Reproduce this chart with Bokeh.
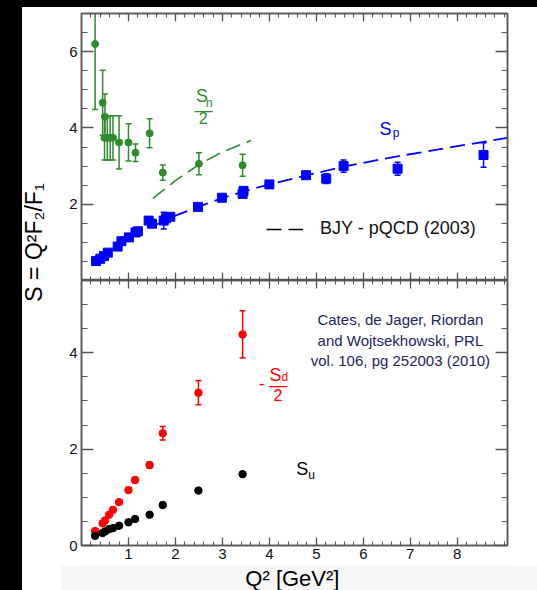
import numpy as np
from bokeh.plotting import figure
from bokeh.models import Range1d, LinearAxis, FixedTicker, Label, Legend, LegendItem, Spacer
from bokeh.layouts import row, column
from bokeh.embed import file_html
from bokeh.resources import INLINE

# ---------------- data ----------------
# top panel: neutron  S_n / 2  (green circles)
sn_q2 = [0.29, 0.45, 0.50, 0.49, 0.55, 0.61, 0.67, 0.80, 1.00, 1.15, 1.45, 1.73, 2.50, 3.43]
sn_val = [6.20, 4.66, 4.29, 3.74, 3.74, 3.74, 3.74, 3.62, 3.62, 3.35, 3.86, 2.83, 3.06, 3.02]
sn_err = [1.72, 0.85, 0.60, 0.58, 0.58, 0.58, 0.58, 0.70, 0.49, 0.23, 0.38, 0.20, 0.29, 0.29]

# top panel: proton S_p (blue squares)
sp_q2 = [0.31, 0.40, 0.48, 0.56, 0.77, 0.85, 1.01, 1.15, 1.20, 1.43, 1.50, 1.75, 1.80, 1.89,
         2.48, 2.99, 3.43, 3.45, 4.00, 4.78, 5.21, 5.58, 6.73, 8.56]
sp_val = [0.51, 0.57, 0.64, 0.73, 0.89, 1.03, 1.13, 1.26, 1.29, 1.57, 1.49, 1.57, 1.63, 1.67,
          1.93, 2.17, 2.27, 2.35, 2.52, 2.76, 2.67, 3.00, 2.93, 3.29]
sp_err = [0.02, 0.02, 0.02, 0.02, 0.02, 0.02, 0.02, 0.03, 0.03, 0.04, 0.04, 0.22, 0.05, 0.05,
          0.05, 0.05, 0.08, 0.08, 0.05, 0.06, 0.13, 0.16, 0.17, 0.32]

# BJY - pQCD (2003) curves
bjy_n_q2 = [1.52, 2.00, 2.50, 3.00, 3.61]
bjy_n_val = [2.15, 2.62, 3.04, 3.37, 3.67]
bjy_p_q2 = [1.53, 2.00, 2.50, 3.00, 3.50, 4.00, 4.80, 5.60, 6.70, 8.00, 9.07]
bjy_p_val = [1.43, 1.70, 1.94, 2.16, 2.35, 2.52, 2.76, 2.99, 3.25, 3.52, 3.74]

# bottom panel: flavor separated  -S_d/2 (red)  and  S_u (black)
fl_q2 = [0.29, 0.45, 0.50, 0.59, 0.67, 0.80, 1.00, 1.14, 1.45, 1.73, 2.49, 3.43]
sd_val = [0.30, 0.46, 0.52, 0.64, 0.74, 0.90, 1.15, 1.36, 1.67, 2.33, 3.17, 4.38]
sd_err = [0.02, 0.02, 0.02, 0.03, 0.03, 0.04, 0.05, 0.05, 0.06, 0.14, 0.25, 0.49]
su_val = [0.20, 0.26, 0.29, 0.34, 0.36, 0.41, 0.48, 0.55, 0.64, 0.84, 1.14, 1.48]

# ticks
x_major = [1, 2, 3, 4, 5, 6, 7, 8]
x_minor = [round(v, 1) for v in np.arange(0.2, 9.05, 0.2)]
top_y_major = [2, 4, 6]
top_y_minor = [round(v, 1) for v in np.arange(0.5, 7.01, 0.5)]
bot_y_major = [0, 2, 4]
bot_y_minor = [round(v, 1) for v in np.arange(0.5, 5.51, 0.5)]

# ---------------- style ----------------
XMAX = 9.07
FRAME = "#555555"
GREEN = "#2e8b2e"
BLUE = "#0000ff"
RED = "#ff0000"
NAVY = "#23235f"
FONT = "Liberation Sans"
MAIN_W = 477
B_LEFT, B_RIGHT = 21, 30


def add_axes(p, xlabels, yticks, yminor):
    specs = [("below", True, xlabels), ("above", True, False),
             ("left", False, True), ("right", False, False)]
    for place, is_x, show in specs:
        if is_x:
            ax = LinearAxis(ticker=FixedTicker(ticks=x_major, minor_ticks=x_minor))
            ax.major_tick_in, ax.minor_tick_in = 8, 4
        else:
            ax = LinearAxis(ticker=FixedTicker(ticks=yticks, minor_ticks=yminor))
            ax.major_tick_in, ax.minor_tick_in = 12, 6
        ax.major_tick_out = 0
        ax.minor_tick_out = 0
        ax.axis_line_color = FRAME
        ax.axis_line_width = 1.5
        ax.major_tick_line_color = FRAME
        ax.minor_tick_line_color = FRAME
        ax.major_tick_line_width = 1.3
        ax.minor_tick_line_width = 1.1
        if show:
            ax.major_label_text_font = FONT
            ax.major_label_text_font_size = "15px"
            ax.major_label_text_color = "#111111"
            ax.major_label_standoff = 3 if is_x else 4
        else:
            ax.major_label_text_font_size = "1px"
            ax.major_label_text_color = None
            ax.major_label_standoff = 0
        p.add_layout(ax, place)


def make_fig(height, ymax, border_top, border_bottom):
    p = figure(width=MAIN_W, height=height, x_range=Range1d(0, XMAX), y_range=Range1d(0, ymax),
               output_backend="svg", toolbar_location=None, title=None,
               x_axis_location=None, y_axis_location=None,
               min_border_left=B_LEFT, min_border_right=B_RIGHT,
               min_border_top=border_top, min_border_bottom=border_bottom)
    p.xgrid.visible = False
    p.ygrid.visible = False
    p.outline_line_color = FRAME
    p.outline_line_width = 1.5
    p.background_fill_color = "white"
    p.border_fill_color = "white"
    return p


def errbars(p, xs, ys, es, color):
    lo = [y - e for y, e in zip(ys, es)]
    hi = [y + e for y, e in zip(ys, es)]
    p.segment(x0=xs, y0=lo, x1=xs, y1=hi, line_color=color, line_width=1.5)
    p.scatter(x=list(xs) + list(xs), y=lo + hi, marker="dash", size=6,
              line_color=color, line_width=1.5)


def txt(p, x, y, s, color, size, align="center", baseline="alphabetic", font=FONT):
    p.add_layout(Label(x=x, y=y, text=s, text_color=color, text_font=font,
                       text_font_size=size, text_align=align, text_baseline=baseline))


# ---------------- top panel ----------------
p_top = make_fig(273, 7, 6, 0)
add_axes(p_top, False, top_y_major, top_y_minor)

p_top.line(bjy_n_q2, bjy_n_val, line_color=GREEN, line_width=1.6, line_dash="15 7")
p_top.line(bjy_p_q2, bjy_p_val, line_color=BLUE, line_width=1.8, line_dash="15 7")
errbars(p_top, sn_q2, sn_val, sn_err, GREEN)
p_top.scatter(sn_q2, sn_val, marker="circle", size=7, fill_color=GREEN, line_color=GREEN)
errbars(p_top, sp_q2, sp_val, sp_err, BLUE)
p_top.scatter(sp_q2, sp_val, marker="square", size=9, fill_color=BLUE, line_color=BLUE)

leg_line = p_top.line(x=[np.nan], y=[np.nan], line_color="black", line_width=1.5,
                      line_dash="15 7")
legend = Legend(items=[LegendItem(label="BJY - pQCD (2003)", renderers=[leg_line])],
                location=(185, 41), glyph_width=37, glyph_height=20, label_standoff=17,
                label_text_font=FONT, label_text_font_size="18px", label_text_color="#111111",
                padding=0, margin=0, border_line_color=None, background_fill_alpha=0)
p_top.add_layout(legend)

# S_n / 2
txt(p_top, 2.565, 4.83, "S", GREEN, "18px")
txt(p_top, 2.72, 4.66, "n", GREEN, "12px")
txt(p_top, 2.60, 4.47, "\u2014", GREEN, "18px")
txt(p_top, 2.59, 4.26, "2", GREEN, "16px")
# S_p
txt(p_top, 6.47, 3.96, "S", BLUE, "18px")
txt(p_top, 6.70, 3.88, "p", BLUE, "12px")

# ---------------- bottom panel ----------------
p_bot = make_fig(285, 5.5, 0, 20)
add_axes(p_bot, True, bot_y_major, bot_y_minor)

errbars(p_bot, fl_q2, sd_val, sd_err, RED)
p_bot.scatter(fl_q2, sd_val, marker="circle", size=7.5, fill_color=RED, line_color=RED)
p_bot.scatter(fl_q2, su_val, marker="circle", size=7.5, fill_color="black", line_color="black")

# - S_d / 2
txt(p_bot, 3.84, 3.37, "-", RED, "18px")
txt(p_bot, 4.13, 3.53, "S", RED, "18px")
txt(p_bot, 4.33, 3.49, "d", RED, "12px")
txt(p_bot, 4.19, 3.33, "\u2014", RED, "18px")
txt(p_bot, 4.18, 3.13, "2", RED, "16px")
# S_u
txt(p_bot, 4.70, 1.58, "S", "black", "18px")
txt(p_bot, 4.90, 1.46, "u", "black", "12px")

# citation
txt(p_bot, 6.79, 4.69, "Cates, de Jager, Riordan", NAVY, "15px")
txt(p_bot, 6.79, 4.26, "and Wojtsekhowski, PRL", NAVY, "15px")
txt(p_bot, 6.79, 3.84, "vol. 106, pg 252003 (2010)", NAVY, "15px")

# ---------------- x axis title ----------------
p_xlab = figure(width=MAIN_W, height=25, x_range=Range1d(0, XMAX), y_range=Range1d(0, 25),
                output_backend="svg", toolbar_location=None, title=None,
                x_axis_location=None, y_axis_location=None,
                min_border_left=B_LEFT, min_border_right=B_RIGHT,
                min_border_top=0, min_border_bottom=0)
p_xlab.outline_line_color = None
p_xlab.xgrid.visible = False
p_xlab.ygrid.visible = False
p_xlab.background_fill_color = "#f6f6f6"
p_xlab.border_fill_color = "#f6f6f6"
txt(p_xlab, 4.49, 24.5, "Q\u00b2 [GeV\u00b2]", "black", "22px", baseline="top")

# ---------------- y axis title (shared) ----------------
p_lab = figure(width=38, height=583, x_range=Range1d(0, 38), y_range=Range1d(0, 583),
               output_backend="svg", toolbar_location=None, title=None,
               x_axis_location=None, y_axis_location=None, min_border=0)
p_lab.outline_line_color = None
p_lab.xgrid.visible = False
p_lab.ygrid.visible = False
p_lab.add_layout(Label(x=11, y=348, text="S = Q\u00b2F\u2082/F\u2081", angle=np.pi / 2,
                       text_align="center", text_baseline="middle", text_font=FONT,
                       text_font_size="23px", text_color="black"))

top_strip = Spacer(width=537, height=7, styles={"background-color": "black"})
left_strip = Spacer(width=22, height=583, styles={"background-color": "black"})
layout = column(top_strip, row(left_strip, p_lab, column(p_top, p_bot, p_xlab)))

open("out.html", "w").write(file_html(layout, INLINE))
